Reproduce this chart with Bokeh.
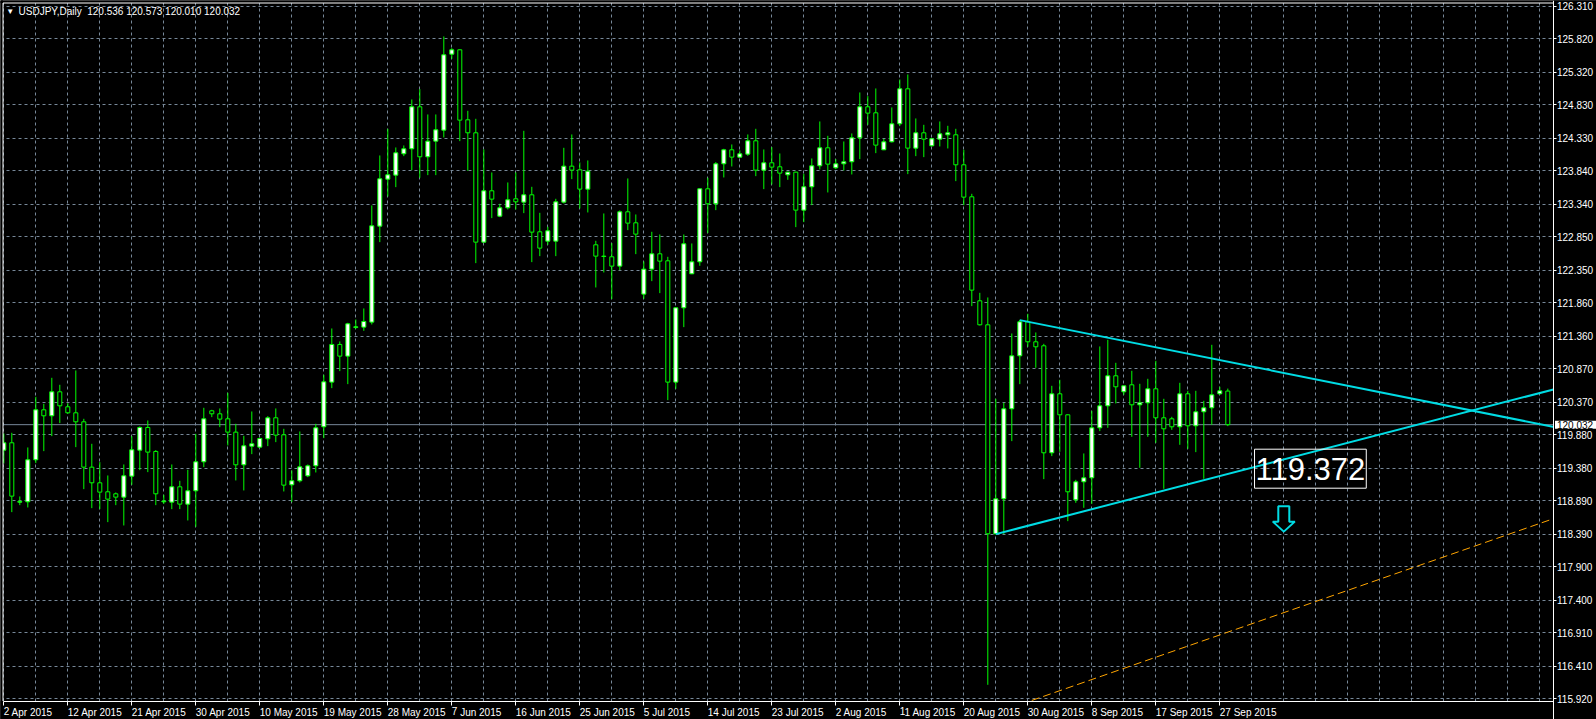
import pandas as pd
from bokeh.plotting import figure
from bokeh.models import (FixedTicker, NumeralTickFormatter, Label,
                          ColumnDataSource, Range1d)
from bokeh.embed import file_html
from bokeh.resources import INLINE

# ---------------- data ----------------
symbol = "USDJPY,Daily"
# broker calendar: daily bars Sunday..Friday
dates = [d for d in pd.date_range("2015-04-02", "2015-09-28", freq="D") if d.dayofweek != 5]
date_labels = [f"{d.day} {d.strftime('%b')} {d.year}" for d in dates]

opens = [119.65, 119.76, 118.87, 118.875, 119.505, 120.255, 120.165, 120.525, 120.30, 120.21,
         120.075, 119.395, 119.16, 119.025, 118.995, 118.945, 119.26, 119.65, 119.99, 119.63,
         118.875, 118.87, 119.10, 118.84, 119.04, 119.475, 120.24, 120.195, 120.12, 119.92,
         119.43, 119.71, 119.695, 119.82, 120.135, 119.88, 119.13, 119.19, 119.265, 119.415,
         120.0, 120.67, 121.235, 121.06, 121.49, 121.495, 121.57, 123.01, 123.715, 123.775,
         124.095, 124.17, 124.80, 124.05, 124.285, 124.45, 125.59, 125.655, 124.605, 124.41,
         122.77, 123.54, 123.16, 123.285, 123.42, 123.37, 123.48, 122.925, 122.785, 122.785,
         123.37, 123.91, 123.855, 123.565, 122.73, 122.555, 122.55, 122.41, 123.225, 123.06,
         121.99, 122.365, 122.595, 122.49, 120.67, 121.785, 122.295, 122.475, 123.57, 123.345,
         123.945, 124.155, 124.045, 124.09, 124.29, 123.85, 123.96, 123.90, 123.78, 123.82,
         123.25, 123.60, 123.915, 124.185, 123.885, 123.945, 123.975, 124.335, 124.80, 124.71,
         124.155, 124.275, 124.545, 125.07, 124.18, 124.41, 124.215, 124.315, 124.38, 124.38,
         123.93, 123.45, 121.89, 121.53, 118.395, 118.92, 120.27, 121.065, 121.575, 121.275,
         121.215, 119.61, 120.495, 120.18, 118.905, 119.175, 119.235, 119.985, 120.315, 120.765,
         120.525, 120.63, 120.33, 120.36, 120.57, 120.135, 120.12, 120.0, 120.495, 120.015,
         120.225, 120.285, 120.495, 120.536]
highs = [119.90, 119.91, 118.955, 119.69, 120.45, 120.345, 120.735, 120.63, 120.355, 120.845,
         120.12, 119.745, 119.47, 119.27, 119.015, 119.435, 119.86, 120.005, 120.095, 119.65,
         118.98, 119.435, 119.19, 119.355, 119.895, 120.285, 120.255, 120.275, 120.51, 120.045,
         119.865, 120.23, 119.835, 120.16, 120.275, 119.97, 119.345, 119.93, 119.435, 120.045,
         120.78, 121.475, 121.28, 121.56, 121.61, 121.775, 123.32, 124.07, 124.47, 124.19,
         124.22, 124.91, 125.065, 124.685, 124.685, 125.855, 125.68, 125.66, 124.74, 124.62,
         124.16, 123.815, 123.345, 123.665, 123.815, 124.44, 123.60, 123.21, 123.0, 123.42,
         124.185, 124.385, 123.965, 123.995, 122.79, 123.20, 122.755, 123.245, 123.725, 123.185,
         122.48, 122.925, 122.885, 122.55, 121.79, 122.885, 122.75, 123.575, 123.735, 123.97,
         124.17, 124.235, 124.145, 124.385, 124.47, 124.16, 124.195, 124.10, 123.825, 123.825,
         123.795, 124.025, 124.58, 124.365, 124.015, 124.28, 124.40, 125.015, 124.96, 125.075,
         124.32, 124.79, 125.21, 125.285, 124.625, 124.53, 124.33, 124.58, 124.515, 124.47,
         124.155, 123.495, 122.01, 121.94, 120.42, 120.36, 121.40, 121.605, 121.695, 121.415,
         121.245, 120.615, 120.705, 120.185, 119.205, 119.60, 120.24, 121.205, 121.305, 120.96,
         120.615, 120.84, 120.645, 120.72, 120.99, 120.42, 120.15, 120.66, 120.54, 120.54,
         120.39, 121.23, 120.60, 120.573]
lows = [119.45, 118.72, 118.825, 118.79, 119.455, 119.635, 119.86, 120.055, 120.195, 119.695,
        119.065, 118.78, 118.765, 118.57, 118.825, 118.52, 119.13, 119.35, 119.32, 118.825,
        118.845, 118.765, 118.765, 118.595, 118.50, 119.395, 120.145, 119.995, 119.72, 119.195,
        119.045, 119.59, 119.68, 119.71, 119.77, 119.03, 118.87, 119.165, 119.245, 119.315,
        119.83, 120.58, 120.835, 120.64, 121.47, 121.44, 121.535, 122.77, 123.455, 123.595,
        124.06, 123.85, 123.735, 123.775, 123.775, 124.34, 125.52, 124.285, 123.84, 122.455,
        122.76, 123.13, 123.145, 123.26, 123.26, 123.205, 122.47, 122.56, 122.73, 122.56,
        123.35, 123.715, 123.275, 123.215, 122.09, 122.315, 121.915, 122.35, 122.95, 122.59,
        121.92, 122.185, 122.005, 120.40, 120.57, 121.495, 122.29, 122.415, 122.905, 123.25,
        123.74, 123.905, 124.035, 124.065, 123.76, 123.565, 123.635, 123.595, 123.705, 122.995,
        123.07, 123.325, 123.86, 123.515, 123.865, 123.845, 123.785, 124.015, 124.53, 124.105,
        124.15, 124.265, 124.51, 123.79, 124.06, 124.045, 124.205, 124.205, 124.175, 123.685,
        123.325, 121.81, 121.52, 116.13, 118.39, 118.39, 119.785, 120.64, 121.20, 120.885,
        119.215, 119.56, 119.625, 118.585, 118.86, 118.785, 118.845, 119.935, 119.985, 120.35,
        120.48, 119.85, 119.385, 119.85, 119.76, 119.07, 119.955, 119.73, 119.67, 119.62,
        119.22, 120.03, 120.48, 120.010]
closes = [119.76, 118.96, 118.88, 119.505, 120.255, 120.165, 120.525, 120.315, 120.21, 120.075,
          119.395, 119.16, 119.02, 118.915, 118.945, 119.265, 119.655, 119.99, 119.62, 118.995,
          118.885, 119.10, 118.84, 119.04, 119.475, 120.12, 120.195, 120.115, 119.92, 119.43,
          119.715, 119.745, 119.825, 120.135, 119.875, 119.125, 119.19, 119.40, 119.415, 119.985,
          120.675, 121.235, 121.06, 121.545, 121.50, 121.58, 123.015, 123.72, 123.78, 124.11,
          124.17, 124.80, 124.05, 124.285, 124.455, 125.58, 125.655, 124.60, 124.41, 122.77,
          123.54, 123.415, 123.285, 123.405, 123.375, 123.48, 122.92, 122.68, 122.94, 123.375,
          123.91, 123.85, 123.565, 123.835, 122.56, 122.56, 122.41, 123.225, 123.055, 122.89,
          122.365, 122.595, 122.485, 120.67, 121.785, 122.745, 122.475, 123.57, 123.345, 123.945,
          124.155, 124.045, 124.095, 124.29, 123.85, 123.96, 123.895, 123.805, 123.82, 123.25,
          123.60, 123.915, 124.185, 123.94, 123.945, 123.975, 124.335, 124.80, 124.705, 124.225,
          124.275, 124.545, 125.07, 124.18, 124.41, 124.315, 124.32, 124.395, 124.41, 123.93,
          123.445, 122.05, 121.53, 118.395, 118.92, 120.27, 121.065, 121.575, 121.275, 121.20,
          119.61, 120.495, 120.18, 119.025, 119.175, 119.235, 119.985, 120.315, 120.765, 120.60,
          120.615, 120.33, 120.36, 120.57, 120.135, 119.97, 120.0, 120.495, 120.015, 120.225,
          120.285, 120.48, 120.54, 120.032]

x_tick_labels = ["2 Apr 2015", "12 Apr 2015", "21 Apr 2015", "30 Apr 2015", "10 May 2015",
                 "19 May 2015", "28 May 2015", "7 Jun 2015", "16 Jun 2015", "25 Jun 2015",
                 "5 Jul 2015", "14 Jul 2015", "23 Jul 2015", "2 Aug 2015", "11 Aug 2015",
                 "20 Aug 2015", "30 Aug 2015", "8 Sep 2015", "17 Sep 2015", "27 Sep 2015"]
y_tick_labels = ["126.310", "125.820", "125.320", "124.830", "124.330", "123.840", "123.340",
                 "122.850", "122.350", "121.860", "121.360", "120.870", "120.370", "119.880",
                 "119.380", "118.890", "118.390", "117.900", "117.400", "116.910", "116.410",
                 "115.920"]

bid_price = 120.032
# drawn objects (bar index, price)
upper_trend_x = [127, 200]
upper_trend_y = [121.60, 119.848]
lower_trend_x = [124, 200]
lower_trend_y = [118.39, 120.756]
orange_trend_x = [120, 200]
orange_trend_y = [115.54, 118.885]
text_label = "119.372"
text_label_x = 156.34
text_label_y = 119.664
arrow_x = 160.0
arrow_top = 118.81

# ---------------- figure ----------------
n = len(opens)
idx = list(range(n))
bull = [c >= o for o, c in zip(opens, closes)]
src = ColumnDataSource(dict(
    x=idx, open=opens, high=highs, low=lows, close=closes,
    top=[max(o, c) for o, c in zip(opens, closes)],
    bottom=[min(o, c) for o, c in zip(opens, closes)],
    fill=["#FFFFFF" if b else "#000000" for b in bull],
))

FONT = "Liberation Sans"
GRID = "#778899"
CYAN = "#00DCE4"

W, H = 1596, 719
PX_X, PX_Y = 1 / 8.0, 0.015           # one screen pixel in bar / price units
XS = -3.3 * PX_X                      # canvas left edge
XE = XS + W * PX_X
YE = 125.82 + 38.3 * PX_Y             # canvas top edge
YS = YE - H * PX_Y
X0, X1 = XS + 2.5 * PX_X, XS + 1552.5 * PX_X   # chart window left / right border
Y1, Y0 = YE - 2.5 * PX_Y, YE - 700.5 * PX_Y    # chart window top / bottom border

p = figure(frame_width=W, frame_height=H, output_backend="svg",
           toolbar_location=None, x_range=Range1d(XS, XE),
           y_range=Range1d(YS, YE), y_axis_location="right", x_axis_location="below",
           min_border_left=0, min_border_top=0, min_border_right=0, min_border_bottom=0)
p.background_fill_color = "black"
p.border_fill_color = "black"
p.outline_line_color = None

# grid
p.xgrid.ticker = FixedTicker(ticks=list(range(0, 196, 4)))
p.xgrid.grid_line_color = GRID
p.xgrid.grid_line_dash = "3 3"
p.ygrid.grid_line_color = GRID
p.ygrid.grid_line_dash = "3 3"

# axes (price scale on the right border, time scale on the bottom border)
yt = [float(s) for s in y_tick_labels]
p.yaxis.ticker = FixedTicker(ticks=yt)
p.yaxis.formatter = NumeralTickFormatter(format="0.000")
p.yaxis.fixed_location = X1
xt = [date_labels.index(s) for s in x_tick_labels]
p.xaxis.ticker = FixedTicker(ticks=xt)
p.xaxis.major_label_overrides = {t: s for t, s in zip(xt, x_tick_labels)}
p.xaxis.major_label_orientation = -0.0001   # labels start at their tick
p.xaxis.fixed_location = Y0
p.xaxis.bounds = (X0, X1)
for ax in (p.xaxis[0], p.yaxis[0]):
    ax.axis_line_color = "white"
    ax.major_tick_line_color = "white"
    ax.minor_tick_line_color = None
    ax.major_tick_in = 0
    ax.major_label_text_color = "white"
    ax.major_label_text_font = FONT
    ax.major_label_text_font_size = "10px"
p.xaxis.major_tick_out = 4
p.xaxis.major_label_standoff = 7
p.yaxis.major_tick_out = 3
p.yaxis.major_label_standoff = 1

# bid line
p.line([X0, X1], [bid_price, bid_price], line_color=GRID, line_width=1)

# orange dashed trend
p.line(orange_trend_x, orange_trend_y, line_color="#FFA500", line_width=1, line_dash="8 4")

# candles
p.segment(x0="x", y0="low", x1="x", y1="high", source=src, line_color="#00FF00", line_width=1)
p.vbar(x="x", top="top", bottom="bottom", width=0.5, source=src,
       fill_color="fill", line_color="#00FF00", line_width=1)

# cyan trendlines
p.line(upper_trend_x, upper_trend_y, line_color=CYAN, line_width=2)
p.line(lower_trend_x, lower_trend_y, line_color=CYAN, line_width=2)

# hollow down arrow (shape offsets in pixels)
shape = [(-5.5, 0), (5.5, 0), (5.5, 15.5), (11, 15.5), (0, 25.5), (-11, 15.5), (-5.5, 15.5)]
p.patch([arrow_x + dx * PX_X for dx, dy in shape],
        [arrow_top - dy * PX_Y for dx, dy in shape],
        fill_color="black", line_color=CYAN, line_width=2)

# scale strips outside the chart window (hide grid / rays there)
p.quad(left=[X1, XS - 1], right=[XE + 1, XE + 1], bottom=[YS - 1, YS - 1], top=[YE + 1, Y0],
       fill_color="black", line_color=None)
p.quad(left=[XS - 1, XS - 1], right=[X0, XE + 1], bottom=[YS - 1, Y1], top=[YE + 1, YE + 1],
       fill_color="black", line_color=None)
# left and top window borders
p.line([X0, X0], [Y0, Y1], line_color="white", line_width=1)
p.line([X0, X1], [Y1, Y1], line_color="white", line_width=1)

# text label
p.add_layout(Label(x=text_label_x, y=text_label_y, text=text_label, text_color="white",
                   text_font=FONT, text_font_size="31px",
                   text_baseline="top", border_line_color="white", border_line_width=1,
                   padding=dict(left=1, right=1, top=9, bottom=8)))

# title
p.add_layout(Label(x=0.8, y=126.237, text="▼", text_color="white", text_font=FONT,
                   text_font_size="8px", text_baseline="middle", text_align="center"))
p.add_layout(Label(x=1.84, y=126.237,
                   text=f"{symbol}\u00a0 {opens[-1]:.3f} {highs[-1]:.3f} {lows[-1]:.3f} {closes[-1]:.3f}",
                   text_color="white", text_font=FONT, text_font_size="10px",
                   text_baseline="middle"))

# bid price tag on the price scale
p.add_layout(Label(x=X1 + 2 * PX_X, y=bid_price, text=f"{bid_price:.3f}",
                   text_color="black", text_font=FONT, text_font_size="10px",
                   text_baseline="middle", background_fill_color="white",
                   padding=dict(left=2, right=6, top=0, bottom=0)))

open("out.html", "w").write(file_html(p, INLINE))
